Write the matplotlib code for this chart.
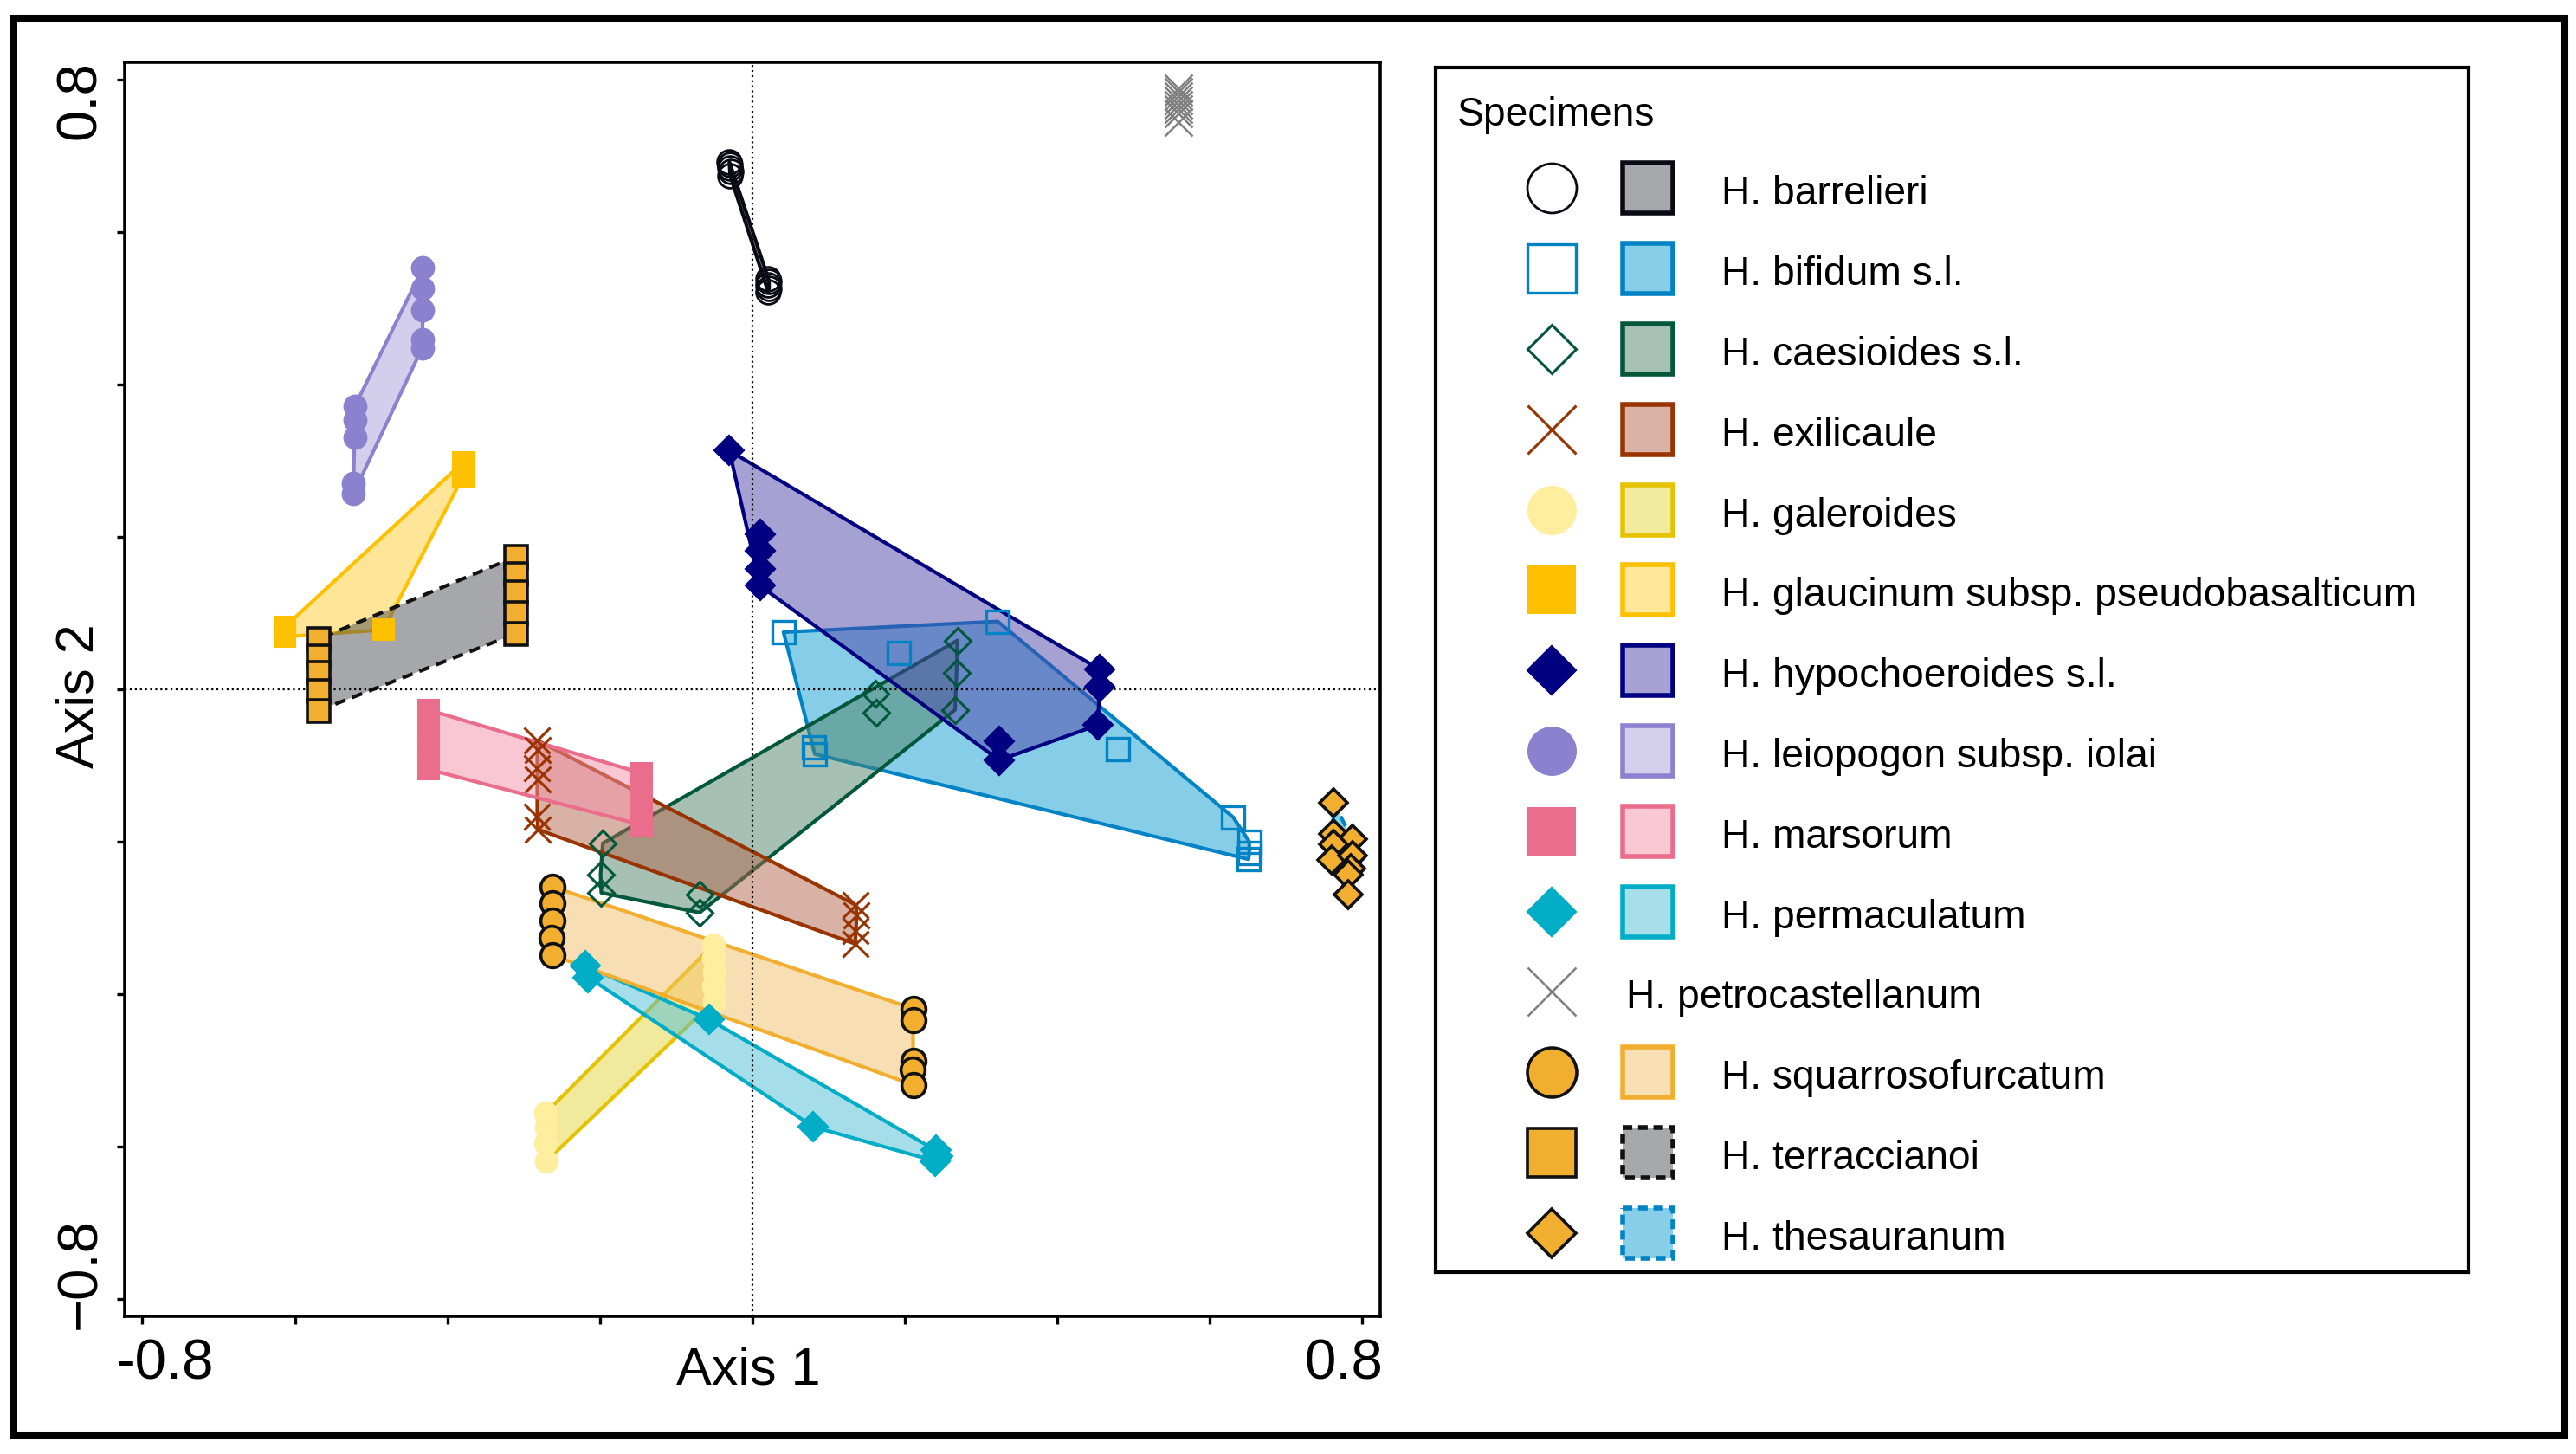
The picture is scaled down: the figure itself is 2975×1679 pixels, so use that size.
import numpy as np
import matplotlib
matplotlib.use('Agg')
import matplotlib.pyplot as plt
from matplotlib.patches import Polygon, Rectangle
from matplotlib.colors import to_rgb

plt.rcParams['font.family'] = ['Liberation Sans', 'DejaVu Sans']

# ---- scores on axis 1 / axis 2 ----
species = ['H. barrelieri', 'H. bifidum s.l.', 'H. caesioides s.l.', 'H. exilicaule',
           'H. galeroides', 'H. glaucinum subsp. pseudobasalticum', 'H. hypochoeroides s.l.',
           'H. leiopogon subsp. iolai', 'H. marsorum', 'H. permaculatum',
           'H. petrocastellanum', 'H. squarrosofurcatum', 'H. terraccianoi', 'H. thesauranum']

barrelieri_x = [-0.030, -0.029, -0.029, -0.028, -0.029, 0.021, 0.022, 0.021, 0.022, 0.021]
barrelieri_y = [0.692, 0.688, 0.684, 0.679, 0.674, 0.539, 0.535, 0.531, 0.526, 0.521]

bifidum_x = [0.041, 0.192, 0.081, 0.082, 0.322, 0.480, 0.631, 0.652, 0.652, 0.651]
bifidum_y = [0.075, 0.048, -0.076, -0.085, 0.089, -0.078, -0.168, -0.200, -0.215, -0.223]

caesioides_x = [-0.196, -0.199, -0.198, -0.069, -0.069, 0.162, 0.163, 0.269, 0.268, 0.266]
caesioides_y = [-0.202, -0.243, -0.267, -0.269, -0.293, -0.006, -0.031, 0.064, 0.022, -0.027]

exilicaule_x = [-0.282, -0.281, -0.282, -0.281, -0.282, -0.281, 0.136, 0.137, 0.136, 0.135]
exilicaule_y = [-0.067, -0.080, -0.103, -0.118, -0.167, -0.184, -0.283, -0.297, -0.317, -0.334]

galeroides_x = [-0.051, -0.051, -0.050, -0.051, -0.050, -0.271, -0.270, -0.271, -0.270]
galeroides_y = [-0.335, -0.352, -0.372, -0.390, -0.409, -0.556, -0.575, -0.595, -0.619]

glaucinum_x = [-0.613, -0.613, -0.484, -0.379, -0.379]
glaucinum_y = [0.082, 0.069, 0.078, 0.298, 0.280]

hypochoeroides_x = [-0.030, 0.010, 0.010, 0.010, 0.010, 0.456, 0.456, 0.453, 0.324, 0.324]
hypochoeroides_y = [0.313, 0.203, 0.182, 0.158, 0.136, 0.026, 0.003, -0.047, -0.068, -0.093]

leiopogon_x = [-0.432, -0.432, -0.432, -0.433, -0.433, -0.521, -0.521, -0.521, -0.523, -0.523]
leiopogon_y = [0.553, 0.526, 0.498, 0.459, 0.448, 0.372, 0.353, 0.331, 0.270, 0.257]

marsorum_x = [-0.425, -0.425, -0.425, -0.425, -0.145, -0.145, -0.145, -0.145]
marsorum_y = [-0.027, -0.053, -0.079, -0.105, -0.110, -0.133, -0.156, -0.178]

permaculatum_x = [-0.219, -0.215, -0.057, 0.080, 0.241, 0.243, 0.240]
permaculatum_y = [-0.363, -0.378, -0.433, -0.574, -0.605, -0.612, -0.619]

petrocastellanum_x = [0.559, 0.559, 0.559, 0.559, 0.559, 0.559, 0.559, 0.559]
petrocastellanum_y = [0.789, 0.784, 0.778, 0.772, 0.767, 0.761, 0.756, 0.744]

squarrosofurcatum_x = [-0.262, -0.262, -0.262, -0.263, -0.262, 0.211, 0.211, 0.211, 0.210, 0.211]
squarrosofurcatum_y = [-0.259, -0.281, -0.303, -0.326, -0.349, -0.419, -0.434, -0.488, -0.499, -0.519]

terraccianoi_x = [-0.569, -0.569, -0.569, -0.569, -0.569, -0.310, -0.310, -0.310, -0.310, -0.310]
terraccianoi_y = [0.066, 0.043, 0.021, -0.002, -0.028, 0.174, 0.151, 0.127, 0.100, 0.073]

thesauranum_x = [0.763, 0.762, 0.787, 0.762, 0.760, 0.787, 0.785, 0.782, 0.782]
thesauranum_y = [-0.149, -0.190, -0.197, -0.203, -0.224, -0.218, -0.235, -0.243, -0.269]

scores = [(barrelieri_x, barrelieri_y), (bifidum_x, bifidum_y), (caesioides_x, caesioides_y),
          (exilicaule_x, exilicaule_y), (galeroides_x, galeroides_y), (glaucinum_x, glaucinum_y),
          (hypochoeroides_x, hypochoeroides_y), (leiopogon_x, leiopogon_y),
          (marsorum_x, marsorum_y), (permaculatum_x, permaculatum_y),
          (petrocastellanum_x, petrocastellanum_y), (squarrosofurcatum_x, squarrosofurcatum_y),
          (terraccianoi_x, terraccianoi_y), (thesauranum_x, thesauranum_y)]

ticks = [-0.8, -0.6, -0.4, -0.2, 0.0, 0.2, 0.4, 0.6, 0.8]

# marker: (shape, face, edge, plot size, legend size, edge width)
# hull:   (fill as seen on white, edge colour, line style) or None
ORANGE = '#F2AE2E'
styles = [
    (('o', 'none', '#0A0A14', 10, 20.5, 1.0), ('#A6A8AB', '#0A0A14', '-')),
    (('s', 'none', '#0083C4', 9.2, 20.5, 1.2), ('#87CEE8', '#0083C4', '-')),
    (('D', 'none', '#00573A', 7.8, 14.5, 1.1), ('#A7C2B5', '#00573A', '-')),
    (('x', '#993300', '#993300', 11, 20.5, 1.1), ('#D9B3A6', '#993300', '-')),
    (('o', '#FFEE9E', '#FFEE9E', 10, 20.5, 0.0), ('#F2EB9E', '#E6C300', '-')),
    (('s', '#FFC000', '#FFC000', 9.2, 20.5, 0.0), ('#FFE699', '#FFC000', '-')),
    (('D', '#000080', '#000080', 8.6, 14.5, 0.8), ('#A6A2D4', '#000080', '-')),
    (('o', '#8B82CF', '#8B82CF', 10, 20.5, 0.0), ('#D5CFEE', '#8B82CF', '-')),
    (('s', '#EA6D8C', '#EA6D8C', 9.2, 20.5, 0.0), ('#FAC8D4', '#EA6D8C', '-')),
    (('D', '#00ADC6', '#00ADC6', 8.6, 14.5, 0.8), ('#A6DFEA', '#00ADC6', '-')),
    (('x', '#7F7F7F', '#7F7F7F', 11.5, 20.5, 0.9), None),
    (('o', ORANGE, '#111111', 10, 20.5, 1.3), ('#F9DFB4', ORANGE, '-')),
    (('s', ORANGE, '#111111', 9.2, 20.5, 1.3), ('#A6A8AB', '#111111', (0, (3, 2)))),
    (('D', ORANGE, '#111111', 8.3, 14.5, 1.3), ('#87CEE8', '#0083C4', (0, (3, 2)))),
]

FILL_ALPHA = 0.5


def tint(hexcol, a=FILL_ALPHA):
    # colour that gives hexcol when laid at alpha a over white
    return tuple(min(1, max(0, 1 - (1 - c) / a)) for c in to_rgb(hexcol)) + (a,)


def convex_hull(xs, ys):
    pts = sorted(set(zip(xs, ys)))
    if len(pts) < 3:
        return pts

    def cross(o, a, b):
        return (a[0] - o[0]) * (b[1] - o[1]) - (a[1] - o[1]) * (b[0] - o[0])

    lower, upper = [], []
    for p in pts:
        while len(lower) >= 2 and cross(lower[-2], lower[-1], p) <= 0:
            lower.pop()
        lower.append(p)
    for p in reversed(pts):
        while len(upper) >= 2 and cross(upper[-2], upper[-1], p) <= 0:
            upper.pop()
        upper.append(p)
    return lower[:-1] + upper[:-1]


W, H, DPI = 2975, 1679, 200
fig = plt.figure(figsize=(W / DPI, H / DPI), dpi=DPI)

# outer frame
fig.add_artist(Rectangle((16 / W, 1 - 1657.5 / H), (2962 - 16) / W, (1657.5 - 20.5) / H,
                         transform=fig.transFigure, fill=False, lw=2.9, ec='black'))

ax = fig.add_axes([144.2 / W, 1 - 1520.3 / H, 1450 / W, 1448.7 / H])
ax.set_xlim(-0.823, 0.824)
ax.set_ylim(-0.823, 0.823)

for (xs, ys), (mk, hl) in zip(scores, styles):
    if hl is None:
        continue
    fill, edge, ls = hl
    pts = convex_hull(xs, ys)
    ax.add_patch(Polygon(pts, closed=True, fc=tint(fill), ec=edge, lw=1.5, ls=ls,
                         joinstyle='round', zorder=2))

ax.axhline(0, color='black', ls=':', lw=0.8, zorder=3)
ax.axvline(0, color='black', ls=':', lw=0.8, zorder=3)

for (xs, ys), (mk, hl) in zip(scores, styles):
    shape, face, edge, size, _, mew = mk
    ax.plot(xs, ys, ls='none', marker=shape, ms=size, mfc=face, mec=edge,
            mew=mew if mew > 0 else 0.01, zorder=4)

# ticks: marks on the 0.2 grid, only the end labels, pulled inwards as in the original
ax.set_xticks(ticks, minor=True)
ax.set_yticks(ticks, minor=True)
ax.set_xticks([-0.771, 0.776], ['-0.8', '0.8'])
ax.set_yticks([-0.766, 0.773], ['\u22120.8', '0.8'])
ax.tick_params(which='major', length=0, labelsize=23.5)
ax.tick_params(axis='x', which='major', pad=9)
ax.tick_params(axis='y', which='major', pad=7.5)
for lab in ax.get_yticklabels():
    lab.set_rotation(90)
    lab.set_va('center')
ax.tick_params(which='minor', direction='out', length=3.4, width=1.2)
for sp in ax.spines.values():
    sp.set_linewidth(1.3)

ax.set_xlabel('Axis 1', fontsize=22)
ax.set_ylabel('Axis 2', fontsize=22)
ax.xaxis.set_label_coords(0.4968, -0.0235)
ax.yaxis.set_label_coords(-0.016, 0.4945)

# ---- legend box, drawn in pixel units of its own axes ----
lx0, ly0, lx1, ly1 = 1658.3, 77.7, 2850.7, 1468.9
lax = fig.add_axes([lx0 / W, 1 - ly1 / H, (lx1 - lx0) / W, (ly1 - ly0) / H])
lax.set_xlim(0, lx1 - lx0)
lax.set_ylim(ly1 - ly0, 0)
lax.set_xticks([])
lax.set_yticks([])
for sp in lax.spines.values():
    sp.set_linewidth(1.5)

FS_LEG = 16.6
lax.text(24.7, 67, 'Specimens', fontsize=FS_LEG, va='baseline', ha='left')
row0, step = 139.7, 92.8
mx, px, tx, tx_single = 133.5, 244.6, 330, 219.7
half = 29
for i, (name, (mk, hl)) in enumerate(zip(species, styles)):
    y = row0 + i * step
    shape, face, edge, _, lsize, mew = mk
    lax.plot([mx], [y], ls='none', marker=shape, ms=lsize, mfc=face, mec=edge,
             mew=mew if mew > 0 else 0.01)
    if hl is not None:
        fill, hedge, ls = hl
        lax.add_patch(Rectangle((px - half, y - half), 2 * half, 2 * half, fc=fill, ec=hedge,
                                lw=2.0, ls=ls if ls == '-' else (0, (2, 1.2))))
        lax.text(tx, y + 19, name, fontsize=FS_LEG, va='baseline', ha='left')
    else:
        lax.text(tx_single, y + 19, name, fontsize=FS_LEG, va='baseline', ha='left')

fig.savefig('out.png', dpi=DPI, facecolor='white')
